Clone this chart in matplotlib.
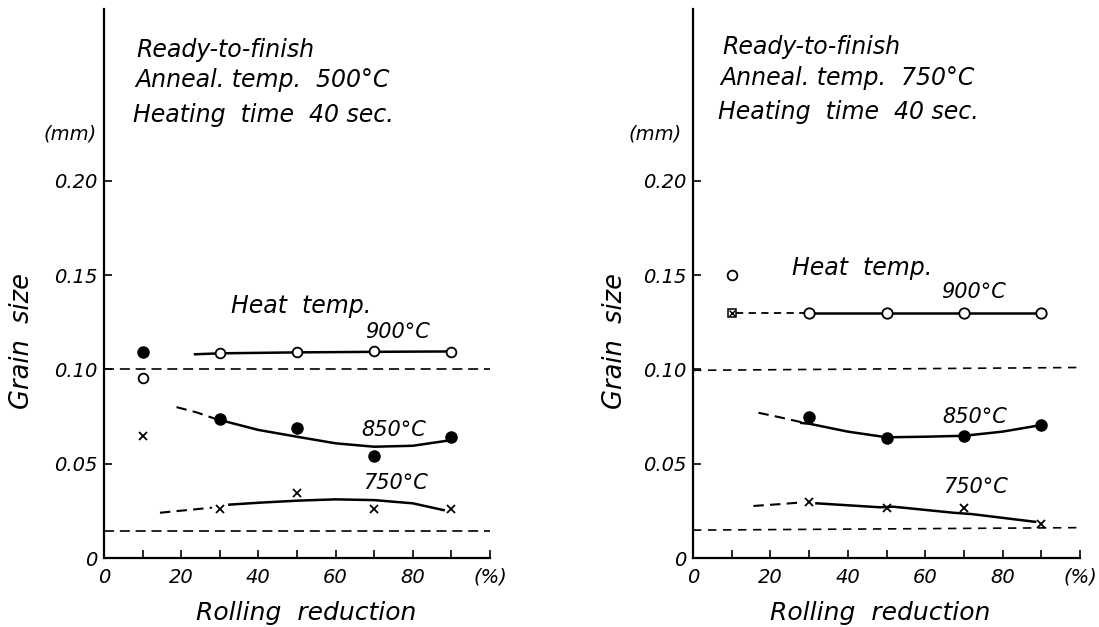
import matplotlib.pyplot as plt

plt.rcParams['font.family'] = 'DejaVu Sans'
plt.rcParams['font.style'] = 'italic'

reduction = [10, 30, 50, 70, 90]
reduction_b = [30, 50, 70, 90]

# left panel, anneal 500C
a500_900 = [0.0955, 0.1085, 0.109, 0.1095, 0.109]
a500_850 = [0.109, 0.0735, 0.069, 0.0542, 0.0643]
a500_750 = [0.0647, 0.0258, 0.0346, 0.0258, 0.0258]

# hand drawn trend lines
a500_900_fit_x = [23.6, 30, 50, 70, 90]
a500_900_fit = [0.108, 0.1085, 0.109, 0.1093, 0.1095]
a500_850_dash_x = [18.8, 24, 29]
a500_850_dash = [0.080, 0.0772, 0.0737]
a500_850_fit_x = [29, 40, 50, 60, 70, 80, 90]
a500_850_fit = [0.0737, 0.0679, 0.0643, 0.0608, 0.059, 0.0595, 0.0625]
a500_750_dash_x = [14.5, 22, 28]
a500_750_dash = [0.024, 0.0255, 0.0267]
a500_750_fit_x = [32.5, 40, 50, 60, 70, 80, 88]
a500_750_fit = [0.0283, 0.0293, 0.0304, 0.0311, 0.0307, 0.029, 0.0254]
a500_ref_hi = [0.100, 0.100]
a500_ref_lo = [0.0145, 0.0145]

# right panel, anneal 750C
a750_900 = [0.13, 0.13, 0.13, 0.13]
a750_850 = [0.0749, 0.0638, 0.0648, 0.0705]
a750_750 = [0.0298, 0.0267, 0.0263, 0.0179]
a750_open_10 = 0.15
a750_square_10 = 0.13

a750_900_dash_x = [11, 29]
a750_900_dash = [0.13, 0.13]
a750_900_fit_x = [30, 50, 70, 90]
a750_900_fit = [0.13, 0.13, 0.13, 0.13]
a750_850_dash_x = [16.9, 22, 28]
a750_850_dash = [0.077, 0.0748, 0.072]
a750_850_fit_x = [28, 30, 40, 50, 60, 70, 80, 90]
a750_850_fit = [0.0716, 0.0712, 0.067, 0.064, 0.0643, 0.0648, 0.067, 0.0705]
a750_750_dash_x = [15.6, 22, 27]
a750_750_dash = [0.0276, 0.0285, 0.0293]
a750_750_fit_x = [31.9, 48.3, 51.8, 67.3, 72, 88.4]
a750_750_fit = [0.029, 0.0269, 0.0272, 0.024, 0.0233, 0.0192]
a750_ref_hi = [0.0995, 0.101]
a750_ref_lo = [0.0148, 0.0161]

xticks = [0, 20, 40, 60, 80, 100]
xticklabels = ['0', '20', '40', '60', '80', '(%)']
yticks = [0, 0.05, 0.10, 0.15, 0.20]
yticklabels = ['0', '0.05', '0.10', '0.15', '0.20']

fig = plt.figure(figsize=(10.99, 6.27), dpi=100)
ax1 = fig.add_axes([0.0946, 0.110, 0.3512, 0.8756])
ax2 = fig.add_axes([0.6306, 0.110, 0.3521, 0.8756])


def setup_axes(ax, mm_x, xlab_x, ylab_x):
    ax.set_xlim(0, 100)
    ax.set_ylim(0, 0.291)
    for s in ['top', 'right']:
        ax.spines[s].set_visible(False)
    for s in ['left', 'bottom']:
        ax.spines[s].set_linewidth(1.6)
    ax.set_xticks(xticks)
    ax.set_xticklabels(xticklabels)
    ax.set_xticks([10, 30, 50, 70, 90], minor=True)
    ax.set_yticks(yticks)
    ax.set_yticklabels(yticklabels)
    ax.tick_params(which='both', direction='in', length=6, width=1.2)
    ax.tick_params(axis='x', pad=7, labelsize=14)
    ax.tick_params(axis='y', pad=5, labelsize=14)
    ax.set_xlabel('Rolling  reduction', fontsize=18, va='center')
    ax.xaxis.set_label_coords(xlab_x, -0.100)
    ax.set_ylabel('Grain  size', fontsize=18.5, va='center')
    ax.yaxis.set_label_coords(ylab_x, 0.395)
    ax.text(mm_x, 0.2245, '(mm)', fontsize=14, ha='center', va='center', clip_on=False)


def ref_lines(ax, hi, lo, dashes):
    for ys in (hi, lo):
        ax.plot([0, 100], ys, color='black', lw=1.2, dashes=dashes, clip_on=False)


# --- left panel ---
setup_axes(ax1, -8.8, 0.523, -0.212)
ref_lines(ax1, a500_ref_hi, a500_ref_lo, (6, 3.5))
ax1.plot(a500_900_fit_x, a500_900_fit, color='black', lw=1.8)
ax1.plot(a500_850_dash_x, a500_850_dash, color='black', lw=1.5, dashes=(5, 3))
ax1.plot(a500_850_fit_x, a500_850_fit, color='black', lw=1.8)
ax1.plot(a500_750_dash_x, a500_750_dash, color='black', lw=1.5, dashes=(5, 3))
ax1.plot(a500_750_fit_x, a500_750_fit, color='black', lw=1.8)
ax1.plot(reduction, a500_900, 'o', ms=7, mfc='white', mec='black', mew=1.3, zorder=5)
ax1.plot(reduction, a500_850, 'o', ms=8, mfc='black', mec='black', zorder=5)
ax1.plot(reduction, a500_750, 'x', ms=6, mec='black', mew=1.3, zorder=5)

ax1.text(8.5, 0.2693, 'Ready-to-finish', fontsize=17, va='center')
ax1.text(8.2, 0.2533, 'Anneal. temp.  500°C', fontsize=17, va='center')
ax1.text(7.5, 0.2348, 'Heating  time  40 sec.', fontsize=17, va='center')
ax1.text(33, 0.1336, 'Heat  temp.', fontsize=17, va='center')
ax1.text(67.6, 0.1198, '900°C', fontsize=15, va='center')
ax1.text(66.8, 0.0678, '850°C', fontsize=15, va='center')
ax1.text(67.0, 0.0397, '750°C', fontsize=15, va='center')

# --- right panel ---
setup_axes(ax2, -9.8, 0.483, -0.2016)
ref_lines(ax2, a750_ref_hi, a750_ref_lo, (5, 4))
ax2.plot(a750_900_dash_x, a750_900_dash, color='black', lw=1.3, dashes=(4, 3))
ax2.plot(a750_900_fit_x, a750_900_fit, color='black', lw=1.8)
ax2.plot(a750_850_dash_x, a750_850_dash, color='black', lw=1.5, dashes=(5, 3))
ax2.plot(a750_850_fit_x, a750_850_fit, color='black', lw=1.8)
ax2.plot(a750_750_dash_x, a750_750_dash, color='black', lw=1.5, dashes=(5, 3))
ax2.plot(a750_750_fit_x, a750_750_fit, color='black', lw=1.8)
ax2.plot(reduction_b, a750_900, 'o', ms=7.5, mfc='white', mec='black', mew=1.3, zorder=5)
ax2.plot([10], [a750_open_10], 'o', ms=7, mfc='white', mec='black', mew=1.3, zorder=5)
ax2.plot([10], [a750_square_10], 's', ms=5.5, mfc='white', mec='black', mew=1.1, zorder=5)
ax2.plot([10], [a750_square_10], 'x', ms=4, mec='black', mew=1.0, zorder=6)
ax2.plot(reduction_b, a750_850, 'o', ms=8, mfc='black', mec='black', zorder=5)
ax2.plot(reduction_b, a750_750, 'x', ms=6, mec='black', mew=1.3, zorder=5)

ax2.text(7.5, 0.2708, 'Ready-to-finish', fontsize=17, va='center')
ax2.text(7.0, 0.2544, 'Anneal. temp.  750°C', fontsize=17, va='center')
ax2.text(6.5, 0.2364, 'Heating  time  40 sec.', fontsize=17, va='center')
ax2.text(25.5, 0.1537, 'Heat  temp.', fontsize=17, va='center')
ax2.text(64.0, 0.141, '900°C', fontsize=15, va='center')
ax2.text(64.3, 0.0749, '850°C', fontsize=15, va='center')
ax2.text(64.6, 0.0378, '750°C', fontsize=15, va='center')

fig.savefig('out.png', dpi=100)
